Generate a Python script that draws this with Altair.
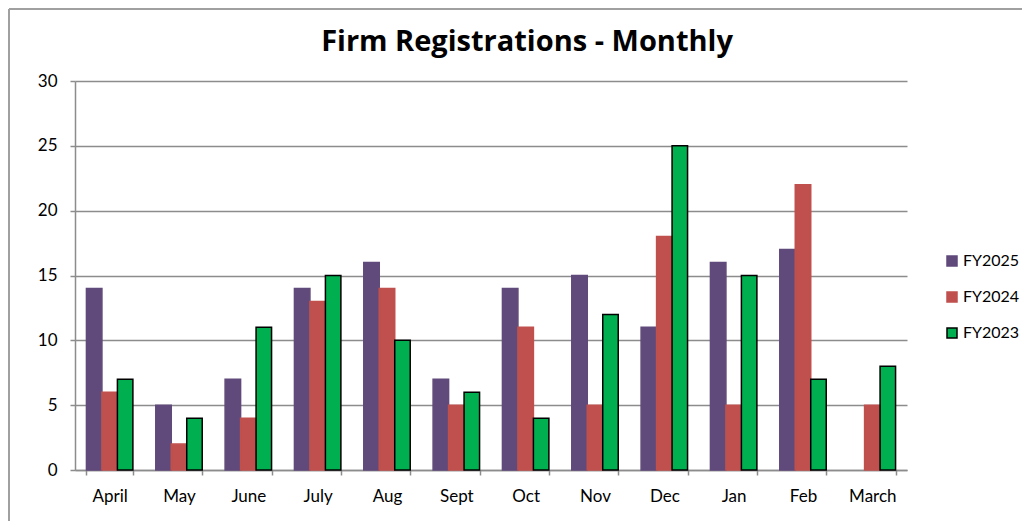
import altair as alt
import pandas as pd

months = ["April", "May", "June", "July", "Aug", "Sept", "Oct", "Nov", "Dec", "Jan", "Feb", "March"]
series = ["FY2025", "FY2024", "FY2023"]
fy2025 = [14, 5, 7, 14, 16, 7, 14, 15, 11, 16, 17, None]
fy2024 = [6, 2, 4, 13, 14, 5, 11, 5, 18, 5, 22, 5]
fy2023 = [7, 4, 11, 15, 10, 6, 4, 12, 25, 15, 7, 8]
colors = ["#604A7B", "#C0504D", "#00B050"]
strokes = ["#604A7B", "#C0504D", "#000000"]
title_text = "Firm Registrations - Monthly"

rows = []
for s, vals in zip(series, [fy2025, fy2024, fy2023]):
    for m, v in zip(months, vals):
        rows.append({"month": m, "series": s, "value": v})
df = pd.DataFrame(rows)

FONT = "Lato"

legend_kw = dict(orient="none", legendX=869, legendY=172,
                 symbolType="square", symbolSize=100,
                 labelFontSize=16, labelFont=FONT, labelColor="#000000",
                 rowPadding=20, labelOffset=3, symbolStrokeWidth=1.5)

bars = alt.Chart(df).mark_bar(strokeWidth=1.5).encode(
    x=alt.X("month:N", sort=months, title=None,
            scale=alt.Scale(paddingInner=0.33, paddingOuter=0.165),
            axis=alt.Axis(labelAngle=0, tickBand="extent", ticks=True, tickSize=5,
                          labelPadding=13, labelFontSize=17, labelColor="#000000",
                          domainColor="#8C8C8C", tickColor="#8C8C8C", domainWidth=1.5,
                          tickWidth=1.5, labelFont=FONT)),
    xOffset=alt.XOffset("series:N", sort=series, scale=alt.Scale(paddingInner=0)),
    y=alt.Y("value:Q", title=None,
            scale=alt.Scale(domain=[0, 30], nice=False),
            axis=alt.Axis(values=[0, 5, 10, 15, 20, 25, 30], tickSize=5, labelPadding=13,
                          labelFontSize=17, labelColor="#000000", domainColor="#8C8C8C",
                          tickColor="#8C8C8C", gridColor="#8C8C8C", gridWidth=1.5,
                          domainWidth=1.5, tickWidth=1.5, labelFont=FONT)),
    color=alt.Color("series:N", sort=series, title=None,
                    scale=alt.Scale(domain=series, range=colors),
                    legend=alt.Legend(**legend_kw)),
    stroke=alt.Stroke("series:N", sort=series, title=None,
                      scale=alt.Scale(domain=series, range=strokes),
                      legend=alt.Legend(**legend_kw)),
)

one = pd.DataFrame({"t": [title_text]})
frame = alt.Chart(one).mark_rule(color="#A0A0A0", strokeWidth=2)
left_border = frame.encode(x=alt.value(-66), y=alt.value(-72), y2=alt.value(460))
top_border = frame.encode(x=alt.value(-66), x2=alt.value(960), y=alt.value(-72))
title = alt.Chart(one).mark_text(font="Open Sans", fontSize=29, fontWeight="bold",
                                 color="#000000", align="center", baseline="alphabetic").encode(
    text="t:N", x=alt.value(452), y=alt.value(-30))

chart = alt.layer(bars, left_border, top_border, title).properties(
    width=832,
    height=389,
    autosize=alt.AutoSizeParams(type="none"),
    padding={"left": 67, "top": 73, "right": 115, "bottom": 51},
).configure_view(stroke=None).configure_axis(grid=False).configure_axisY(grid=True)

chart.save("out.html", embed_options={"renderer": "svg", "actions": False})
